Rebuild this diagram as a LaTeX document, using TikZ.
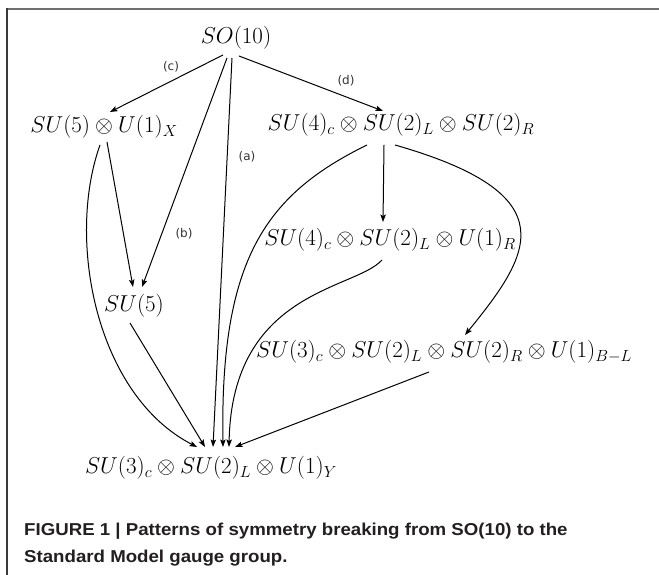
\RequirePackage{fix-cm}
\documentclass[tikz,border=0pt]{standalone}
\usepackage{fontspec}
\usepackage{graphicx}
\usetikzlibrary{arrows.meta,calc}
\newfontfamily\capfont{Liberation Sans}
\newfontfamily\labfont{DejaVu Sans}
\definecolor{topline}{HTML}{707070}
\definecolor{leftline}{HTML}{3A3A3A}
\definecolor{labgray}{HTML}{333333}
\definecolor{captcol}{HTML}{231F20}
\tikzset{
  grp/.style={inner sep=0pt, font=\fontsize{23}{27}\selectfont},
  conn/.style={-{Stealth[length=7.5pt,width=5.5pt,inset=1.5pt]}, line width=1pt},
  lab/.style={inner sep=0pt, text=labgray, font=\labfont\fontsize{12}{14}\selectfont},
  captext/.style={inner sep=0pt, anchor=base west, text=captcol, font=\capfont\bfseries\fontsize{17.2}{20}\selectfont}
}
\begin{document}
\begin{tikzpicture}[x=1pt,y=1pt]
\useasboundingbox (0,0) rectangle (659,575);
\fill[white] (0,0) rectangle (659,575);
\draw[topline, line width=1.4pt] (7,566) -- (659,566);
\draw[leftline, line width=1.2pt] (7,566.7) -- (7,0);

\node[grp] (so)    at (236,537) {$SO(10)$};
\node[grp] (sux)   at (104,448) {$SU(5)\otimes U(1)_X$};
\node[grp] (s422)  at (401,450) {$SU(4)_c\otimes SU(2)_L\otimes SU(2)_R$};
\node[grp] (s421)  at (390,335) {$SU(4)_c\otimes SU(2)_L\otimes U(1)_R$};
\node[grp] (su5)   at (134,269) {$SU(5)$};
\node[grp] (s3221) at (444,223) {$SU(3)_c\otimes SU(2)_L\otimes SU(2)_R\otimes U(1)_{B-L}$};
\node[grp] (sm)    at (211,107) {$SU(3)_c\otimes SU(2)_L\otimes U(1)_Y$};

\node[lab] (lc) at (171,508) {(c)};
\node[lab] (ld) at (346,494) {(d)};
\node[lab] (la) at (247,418) {(a)};
\node[lab] (lb) at (184,341) {(b)};

\draw[conn] ($(so)+(-13,-17)$) -- ($(sux)+(6,15)$);
\draw[conn] ($(so)+(-9,-20)$) -- ($(su5)+(8,19)$);
\draw[conn] ($(so)+(-4,-20)$) -- ($(sm)+(2,21)$);
\draw[conn] ($(so)+(3,-18)$) -- ($(s422)+(-18,14)$);
\draw[conn] ($(sux)+(-4,-18)$) .. controls (66,335) and (96,180) .. ($(sm)+(-14,21)$);
\draw[conn] ($(sux)+(3,-15)$) -- ($(su5)+(-1,19)$);
\draw[conn] ($(su5)+(-4,-17)$) -- ($(sm)+(-6,21)$);
\draw[conn] ($(s422)+(-34,-20)$) .. controls (265,380) and (220,315) .. ($(sm)+(12,21)$);
\draw[conn] ($(s422)+(-17,-20)$) -- ($(s421)+(-7,18)$);
\draw[conn] ($(s422)+(-6,-20)$) .. controls (570,380) and (530,320) .. ($(s3221)+(21,17)$);
\draw[conn] ($(s421)+(-8,-20)$) .. controls (355,285) and (232,285) .. ($(sm)+(18,21)$);
\draw[conn] ($(s3221)+(-15,-20)$) -- ($(sm)+(24,21)$);

\node[captext] (cap1) at (24,39.3) {\scalebox{1.085}[1]{FIGURE 1 | Patterns of symmetry breaking from SO(10) to the}};
\node[captext] (cap2) at (24,12.7) {\scalebox{1.085}[1]{Standard Model gauge group.}};
\end{tikzpicture}
\end{document}
